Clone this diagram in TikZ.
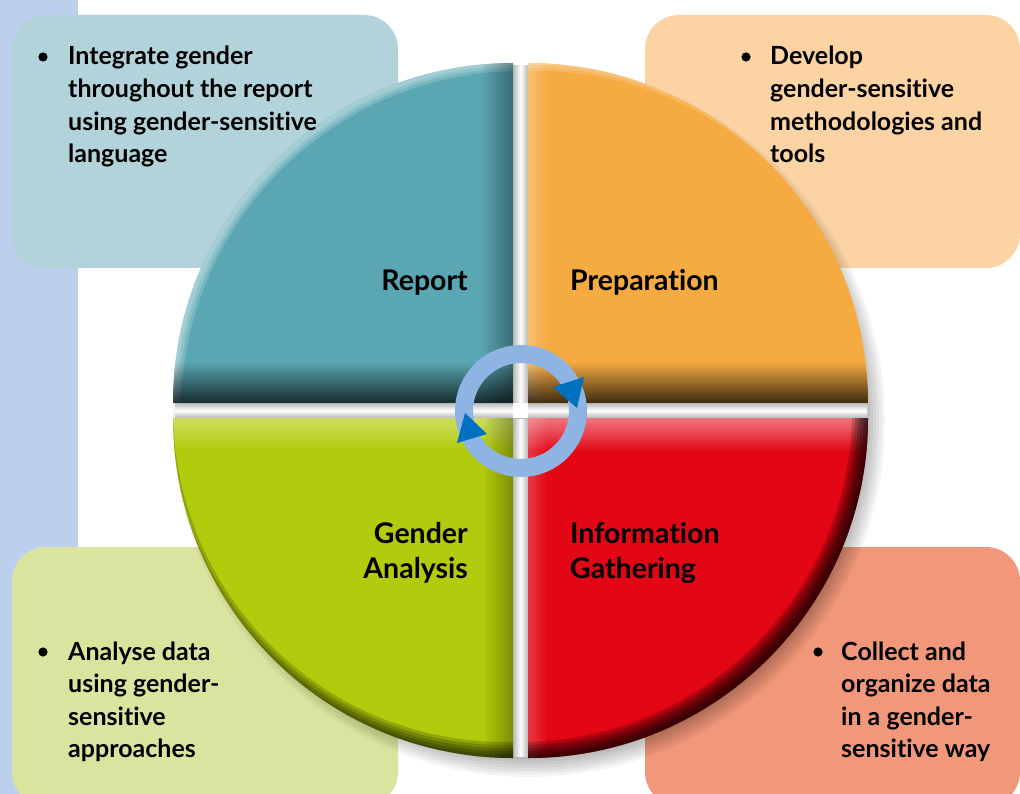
\documentclass[tikz,border=0pt]{standalone}
\usepackage{fontspec}
\setmainfont{Lato}[Ligatures=NoCommon]
\usetikzlibrary{fadings}
\definecolor{stripblue}{HTML}{BCD0EE}
\definecolor{tlbox}{HTML}{B3D3DA}
\definecolor{trbox}{HTML}{FCD4A4}
\definecolor{blbox}{HTML}{DBE49E}
\definecolor{brbox}{HTML}{F1977A}
\definecolor{qteal}{HTML}{5AA7B3}
\definecolor{qorange}{HTML}{F5AA42}
\definecolor{qgreen}{HTML}{B2CB0C}
\definecolor{qred}{HTML}{E30614}
\definecolor{ringblue}{HTML}{8EB4E3}
\definecolor{arrowblue}{HTML}{0070C0}
\definecolor{gapgray}{HTML}{B8B8B8}
\tikzfading[name=opaquebottom, top color=transparent!100, bottom color=transparent!0]
\tikzfading[name=opaquetop, top color=transparent!0, bottom color=transparent!100]
\tikzfading[name=opaqueright, left color=transparent!100, right color=transparent!0]
\tikzfading[name=opaqueleft, left color=transparent!0, right color=transparent!100]
\tikzset{
  infobox/.style={rounded corners=34pt},
  boxtext/.style={inner sep=0pt, font=\bfseries\fontsize{25}{32.6}\selectfont, anchor=base west},
  quadlabel/.style={inner sep=0pt, font=\bfseries\fontsize{28.5}{35}\selectfont},
  bulletdot/.style={fill=black},
}
\begin{document}
\begin{tikzpicture}[x=1pt,y=-1pt]
\useasboundingbox (0,0) rectangle (1020,794);
\clip (0,0) rectangle (1020,794);
\fill[white] (0,0) rectangle (1020,794);
\fill[stripblue] (0,0) rectangle (78,794);
% info boxes
\fill[tlbox, infobox] (12,15) rectangle (398,268);
\fill[trbox, infobox] (645,15) rectangle (1020,268);
\fill[blbox, infobox] (12,547) rectangle (398,806);
\fill[brbox, infobox] (645,547) rectangle (1020,806);
% shadow of the disc
\foreach \r in {356,353,...,338}
  \fill[black, opacity=0.045] (529,421) circle[radius=\r pt];
% white gap between the quadrants, greyish at its edges
\begin{scope}
  \clip (521,411) circle[radius=346pt];
  \shade[left color=gapgray, right color=gapgray, middle color=white] (513,55) rectangle (528,770);
  \shade[top color=gapgray, bottom color=gapgray, middle color=white] (165,403) rectangle (880,418);
  \fill[white] (513,403) rectangle (528,418);
\end{scope}
% quadrants
\def\qreport{(513,403) -- (173,403) arc[start angle=180, end angle=90, radius=340pt] -- cycle}
\def\qprep{(528,403) -- (528,63) arc[start angle=90, end angle=0, radius=340pt] -- cycle}
\def\qgreen{(513,418) -- (173,418) arc[start angle=180, end angle=270, radius=340pt] -- cycle}
\def\qred{(528,418) -- (868,418) arc[start angle=0, end angle=-90, radius=340pt] -- cycle}
% Report
\begin{scope}
  \clip \qreport;
  \fill[qteal] (0,0) rectangle (1020,794);
  \foreach \r in {346,343,340}
    \fill[white, opacity=0.18, even odd rule] (0,0) rectangle (1020,794) (521,411) circle[radius=\r pt];
  \fill[black, opacity=0.35, path fading=opaqueright] (480,63) rectangle (513,403);
  \fill[black, opacity=0.75, path fading=opaquebottom] (173,362) rectangle (513,403);
\end{scope}
% Preparation
\begin{scope}
  \clip \qprep;
  \fill[qorange] (0,0) rectangle (1020,794);
  \foreach \r in {346,343,340}
    \fill[white, opacity=0.15, even odd rule] (0,0) rectangle (1020,794) (536,411) circle[radius=\r pt];
  \fill[white, opacity=0.25, path fading=opaqueleft] (528,63) rectangle (548,403);
  \fill[black, opacity=0.75, path fading=opaquebottom] (528,362) rectangle (868,403);
\end{scope}
% Gender Analysis
\begin{scope}
  \clip \qgreen;
  \fill[qgreen] (0,0) rectangle (1020,794);
  \fill[white, opacity=0.35, path fading=opaquetop] (173,418) rectangle (513,450);
  \fill[black, opacity=0.3, path fading=opaqueright] (483,418) rectangle (513,758);
  \foreach \r in {347,344,341,338,335,332}
    \fill[black, opacity=0.18, even odd rule] (0,0) rectangle (1020,794) (505,410) circle[radius=\r pt];
\end{scope}
% Information Gathering
\begin{scope}
  \clip \qred;
  \fill[qred] (0,0) rectangle (1020,794);
  \fill[white, opacity=0.45, path fading=opaquetop] (528,418) rectangle (868,452);
  \fill[white, opacity=0.2, path fading=opaqueleft] (528,418) rectangle (548,758);
  \foreach \r in {347,344,341,338,335,332}
    \fill[black, opacity=0.2, even odd rule] (0,0) rectangle (1020,794) (520,410) circle[radius=\r pt];
\end{scope}
% centre cycle ring
\draw[ringblue, line width=18pt] (521,411) circle[radius=57pt];
\fill[arrowblue] (553,387) -- (584,377) -- (577,408) -- cycle;
\fill[arrowblue] (457,443) -- (465,413) -- (487,434) -- cycle;
% quadrant labels
\node[quadlabel, anchor=base east] (report) at (468,291) {Report};
\node[quadlabel, anchor=base west] (prep) at (570,291) {Preparation};
\node[quadlabel, anchor=base east] (analysis) at (468,543) {\begin{tabular}[t]{@{}r@{}}Gender\\Analysis\end{tabular}};
\node[quadlabel, anchor=base west] (gathering) at (570,543) {\begin{tabular}[t]{@{}l@{}}Information\\Gathering\end{tabular}};
% box texts
\fill[bulletdot] (43,57) circle[radius=4.6pt];
\node[boxtext] (reporttext) at (68,65) {\begin{tabular}[t]{@{}l@{}}Integrate gender\\throughout the report\\using gender-sensitive\\language\end{tabular}};
\fill[bulletdot] (746,57) circle[radius=4.6pt];
\node[boxtext] (preptext) at (770,65) {\begin{tabular}[t]{@{}l@{}}Develop\\gender-sensitive\\methodologies and\\tools\end{tabular}};
\fill[bulletdot] (43,652) circle[radius=4.6pt];
\node[boxtext] (analysistext) at (68,660) {\begin{tabular}[t]{@{}l@{}}Analyse data\\using gender-\\sensitive\\approaches\end{tabular}};
\fill[bulletdot] (818,652) circle[radius=4.6pt];
\node[boxtext] (gatheringtext) at (841,660) {\begin{tabular}[t]{@{}l@{}}Collect and\\organize data\\in a gender-\\sensitive way\end{tabular}};
\end{tikzpicture}
\end{document}
